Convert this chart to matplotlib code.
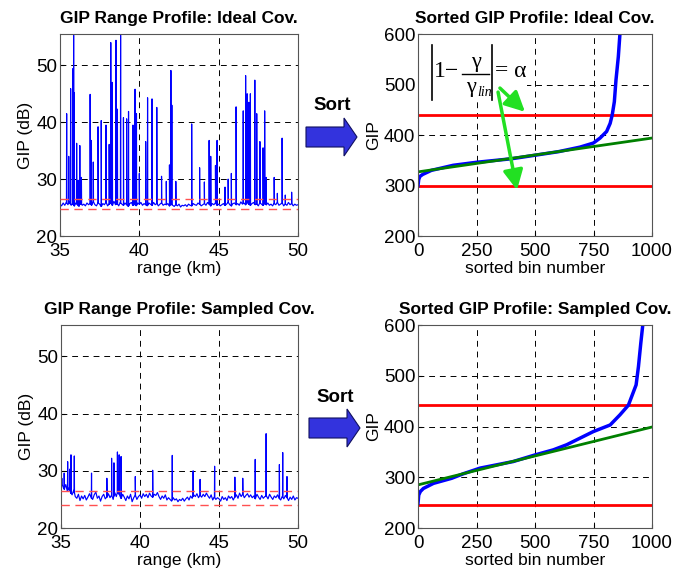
import numpy as np
import matplotlib
matplotlib.use('Agg')
import matplotlib.pyplot as plt
from matplotlib.patches import Polygon, FancyArrowPatch, Rectangle

plt.rcParams['font.family'] = ['Liberation Sans', 'DejaVu Sans']

# Базовый уровень профиля (шаг 0.1 км, 35..50 км)
range_grid = np.round(np.arange(35.0, 50.01, 0.1), 2)

ideal_base = [
    25.6, 25.3, 25.8, 25.4, 25.9, 25.5, 26.0, 25.4, 25.7, 25.3,
    25.8, 25.5, 25.2, 25.9, 25.4, 25.6, 25.3, 25.8, 25.5, 25.7,
    25.4, 26.0, 25.5, 25.3, 25.8, 25.6, 25.2, 25.7, 25.5, 25.9,
    25.3, 25.6, 25.8, 25.4, 26.1, 25.5, 25.7, 25.3, 25.9, 25.6,
    25.4, 25.8, 25.5, 25.2, 25.7, 25.9, 25.4, 25.6, 25.3, 25.8,
    25.6, 25.9, 25.4, 25.7, 25.5, 25.3, 25.8, 25.6, 25.4, 25.9,
    25.5, 25.7, 25.3, 25.6, 25.8, 25.4, 25.6, 25.5, 25.7, 25.3,
    25.6, 25.4, 25.2, 25.5, 25.3, 25.6, 25.1, 25.4, 25.3, 25.5,
    25.2, 25.6, 25.4, 25.3, 25.7, 25.5, 25.4, 25.8, 25.6, 25.3,
    25.5, 25.7, 25.4, 25.9, 25.6, 25.3, 25.7, 25.5, 25.8, 25.4,
    25.6, 25.3, 25.5, 25.7, 25.4, 25.6, 25.9, 25.5, 25.3, 25.7,
    25.8, 25.5, 25.7, 25.4, 26.0, 25.6, 25.8, 25.5, 25.9, 25.6,
    25.4, 25.7, 25.9, 25.5, 25.6, 25.3, 25.8, 25.6, 25.4, 25.7,
    25.5, 25.8, 25.4, 25.6, 25.3, 25.7, 25.5, 25.9, 25.4, 25.6,
    25.8, 25.3, 25.6, 25.4, 25.9, 25.5, 25.7, 25.3, 25.6, 25.4,
    25.5,
]

sampled_base = [
    28.2, 27.4, 26.8, 27.6, 26.5, 27.0, 26.2, 25.8, 26.6, 25.5,
    25.2, 25.9, 24.8, 25.6, 25.1, 25.7, 24.9, 25.4, 26.0, 25.3,
    25.0, 25.8, 26.3, 25.2, 25.6, 24.7, 25.5, 25.9, 25.1, 25.4,
    26.0, 25.3, 25.7, 25.0, 26.2, 25.5, 26.4, 25.8, 25.2, 25.9,
    25.4, 24.8, 25.6, 25.1, 25.9, 24.6, 25.3, 25.7, 25.0, 25.5,
    25.8, 25.2, 26.0, 25.5, 25.9, 25.3, 26.1, 25.6, 25.4, 25.9,
    25.7, 26.2, 25.5, 25.0, 25.6, 25.2, 25.8, 24.9, 25.3, 25.0,
    24.7, 25.3, 24.9, 25.1, 24.6, 25.0, 24.8, 25.2, 24.7, 25.1,
    25.4, 24.9, 25.6, 25.2, 25.8, 25.5, 26.0, 25.3, 25.7, 25.4,
    25.9, 25.5, 26.1, 25.6, 25.2, 25.8, 24.9, 25.4, 25.0, 25.3,
    25.1, 24.7, 25.5, 25.0, 25.3, 24.8, 25.6, 25.2, 25.5, 24.9,
    25.4, 25.8, 25.2, 26.1, 25.5, 25.9, 25.3, 25.7, 26.0, 25.4,
    25.8, 25.3, 25.6, 25.1, 25.9, 25.4, 25.0, 25.7, 25.2, 25.5,
    25.6, 25.1, 25.9, 25.4, 25.0, 25.6, 25.3, 25.8, 25.2, 24.9,
    25.5, 25.1, 25.7, 25.3, 24.8, 25.4, 25.0, 25.6, 24.9, 25.3,
    25.2,
]

# Пики (положение, км / уровень, дБ)
ideal_spike_km = [35.42, 35.55, 35.67, 35.80, 35.86, 35.90, 36.05, 36.15, 36.25, 36.35,
                  36.90, 36.98, 37.10, 37.40, 37.60, 37.90, 38.10, 38.20, 38.30, 38.53,
                  38.62, 38.82, 39.00, 39.20, 39.32, 39.60, 39.73, 39.82, 40.00, 40.40,
                  40.52, 40.80, 41.10, 41.40, 41.70, 41.90, 41.99, 42.05, 42.30, 43.30,
                  43.80, 44.10, 44.40, 44.50, 44.80, 44.90, 45.40, 45.60, 45.80, 46.10,
                  46.55, 46.70, 46.80, 46.90, 47.00, 47.28, 47.40, 47.60, 47.80, 47.90,
                  48.00, 48.50, 48.70, 49.00, 49.20, 49.60]
ideal_spike_db = [41.5, 34.0, 45.9, 49.4, 55.3, 45.2, 36.3, 29.8, 35.9, 30.3,
                  44.9, 36.8, 33.0, 39.2, 40.3, 39.5, 36.1, 54.0, 47.0, 54.4,
                  42.3, 55.3, 40.8, 40.6, 41.9, 39.5, 45.8, 41.5, 31.0, 36.6,
                  44.3, 44.1, 42.6, 30.5, 29.6, 32.5, 49.1, 43.0, 29.6, 39.7,
                  32.0, 29.5, 36.8, 34.0, 32.4, 36.8, 28.6, 30.0, 31.0, 42.7,
                  42.0, 48.2, 45.0, 43.5, 45.0, 47.4, 41.5, 36.6, 35.5, 42.0,
                  30.3, 30.3, 27.5, 37.2, 27.2, 27.7]

sampled_spike_km = [35.05, 35.20, 35.42, 35.55, 35.63, 35.84, 36.93, 37.90, 38.20, 38.35,
                    38.57, 38.68, 38.80, 39.70, 40.80, 42.04, 43.36, 43.80, 44.72, 46.00,
                    46.50, 47.29, 47.98, 48.82, 49.03, 49.30]
sampled_spike_db = [28.7, 29.6, 31.6, 30.3, 32.8, 32.6, 29.6, 28.7, 32.2, 31.4,
                    33.3, 32.8, 32.5, 29.0, 30.1, 32.7, 30.0, 28.5, 30.8, 28.9,
                    28.7, 32.0, 36.5, 31.1, 33.2, 29.0]

# Пороговые уровни (красный пунктир)
ideal_limits_db = [26.5, 24.8]
sampled_limits_db = [26.5, 24.0]

# Отсортированные профили
ideal_sorted_bin = [0, 3, 8, 20, 57, 150, 250, 400, 500, 600, 692, 749, 778, 806,
                    821, 830, 839, 846, 856, 863, 866]
ideal_sorted_gip = [300, 312, 318, 322, 330, 340, 346, 353, 360, 367, 376, 384, 394, 407,
                    423, 440, 466, 509, 555, 601, 610]
ideal_fit = [327, 394]
ideal_thresholds = [440, 300]

sampled_sorted_bin = [0, 3, 10, 23, 66, 144, 194, 265, 407, 500, 578, 635, 692, 749,
                      821, 863, 899, 913, 932, 942, 952, 960, 962]
sampled_sorted_gip = [249, 265, 272, 278, 288, 298, 307, 318, 331, 344, 354, 364, 377, 390,
                      403, 423, 442, 459, 482, 518, 564, 598, 610]
sampled_fit = [285, 399]
sampled_thresholds = [443, 246]

fit_bins = [0, 1000]


def build_profile(base, spike_km, spike_db):
    base = np.array(base)
    pts = list(zip(range_grid, base))
    for k, d in zip(spike_km, spike_db):
        b = np.interp(k, range_grid, base)
        pts += [(k - 0.012, b), (k, d), (k + 0.012, b)]
    pts.sort()
    return np.array(pts).T


def style_axes(ax):
    ax.grid(True, color='black', linestyle=(0, (6, 5)), linewidth=0.7)
    ax.tick_params(direction='in', length=3, labelsize=13.5)
    ax.tick_params(axis='x', pad=5)
    ax.tick_params(axis='y', pad=2)
    for s in ax.spines.values():
        s.set_color('#555555')
        s.set_linewidth(0.8)


fig = plt.figure(figsize=(6.88, 5.72), dpi=100)

ax_positions = {
    'tl': [0.0872, 0.5874, 0.3459, 0.3531],
    'tr': [0.6076, 0.5874, 0.3401, 0.3531],
    'bl': [0.0887, 0.0769, 0.3445, 0.3549],
    'br': [0.6076, 0.0769, 0.3401, 0.3549],
}

profiles = [
    ('tl', 'GIP Range Profile: Ideal Cov.', ideal_base, ideal_spike_km, ideal_spike_db, ideal_limits_db),
    ('bl', 'GIP Range Profile: Sampled Cov.', sampled_base, sampled_spike_km, sampled_spike_db, sampled_limits_db),
]
for key, title, base, sk, sd, lims in profiles:
    ax = fig.add_axes(ax_positions[key])
    x, y = build_profile(base, sk, sd)
    ax.plot(x, y, color='#0000ff', linewidth=0.85)
    for lv in lims:
        ax.axhline(lv, color='#ff5050', linestyle=(0, (6, 4)), linewidth=1.0, zorder=4)
    ax.set_xlim(35, 50)
    ax.set_ylim(20, 55.5)
    ax.set_xticks([35, 40, 45, 50])
    ax.set_yticks([20, 30, 40, 50])
    style_axes(ax)
    ax.set_title(title, fontsize=12.5, fontweight='bold', pad=8)
    ax.set_xlabel('range (km)', fontsize=12.5, labelpad=1)
    ax.set_ylabel('GIP (dB)', fontsize=12.5, labelpad=2)

sorted_sets = [
    ('tr', 'Sorted GIP Profile: Ideal Cov.', ideal_sorted_bin, ideal_sorted_gip, ideal_fit, ideal_thresholds),
    ('br', 'Sorted GIP Profile: Sampled Cov.', sampled_sorted_bin, sampled_sorted_gip, sampled_fit, sampled_thresholds),
]
sorted_axes = {}
for key, title, sb, sg, fit, thr in sorted_sets:
    ax = fig.add_axes(ax_positions[key])
    for lv in thr:
        ax.axhline(lv, color='#ff0000', linewidth=2)
    ax.plot(sb, sg, color='#0000ff', linewidth=2.5)
    ax.plot(fit_bins, fit, color='#008000', linewidth=2)
    ax.set_xlim(0, 1000)
    ax.set_ylim(200, 600)
    ax.set_xticks([0, 250, 500, 750, 1000])
    ax.set_yticks([200, 300, 400, 500, 600])
    style_axes(ax)
    ax.set_title(title, fontsize=12.5, fontweight='bold', pad=8)
    ax.set_xlabel('sorted bin number', fontsize=12.5, labelpad=1)
    ax.set_ylabel('GIP', fontsize=12.5, labelpad=2)
    sorted_axes[key] = ax

# Формула |1 - γ/γlin| = α (собрана из частей), на белой подложке
ax = sorted_axes['tr']
serif = 'Liberation Serif'
ax.add_patch(Rectangle((2, 472), 464, 126, facecolor='white', edgecolor='none', zorder=1.8))
ax.plot([59, 59], [469, 578], color='black', linewidth=1.2, zorder=3)
ax.plot([315, 315], [469, 578], color='black', linewidth=1.2, zorder=3)
ax.text(124, 525, '1\u2212', family=serif, fontsize=17, ha='center', va='center', zorder=3)
ax.text(248, 543, '\u03b3', family=serif, fontsize=16, ha='center', va='center', zorder=3)
ax.plot([190, 305], [521, 521], color='black', linewidth=1.0, zorder=3)
ax.text(228, 494, '\u03b3', family=serif, fontsize=16, ha='center', va='center', zorder=3)
ax.text(255, 484, 'lin', family=serif, style='italic', fontsize=10, ha='left', va='center',
        zorder=3)
ax.text(330, 525, '= \u03b1', family=serif, fontsize=17, ha='left', va='center', zorder=3)

for (x0, y0), (x1, y1) in [((350, 493), (457, 446)), ((342, 485), (423, 291))]:
    ax.add_patch(FancyArrowPatch((x0, y0), (x1, y1), arrowstyle='-|>,head_width=4,head_length=8',
                                 color='#22e022', linewidth=2.5, mutation_scale=1.5,
                                 shrinkA=0, shrinkB=0, zorder=4))

# Стрелки "Sort"
W, H = 688.0, 572.0
for cy, x0, ty in [(137, 306, 105), (428, 309, 397)]:
    body = 10
    head = 19
    xb = x0 + 38
    xt = x0 + 51
    pts = [(x0, cy - body), (xb, cy - body), (xb, cy - head), (xt, cy),
           (xb, cy + head), (xb, cy + body), (x0, cy + body)]
    pts = [(px / W, 1 - py / H) for px, py in pts]
    fig.patches.append(Polygon(pts, closed=True, transform=fig.transFigure,
                               facecolor='#3333dd', edgecolor='#101060', linewidth=0.8))
    fig.text((x0 + 26) / W, 1 - ty / H, 'Sort', fontsize=13.5, fontweight='bold',
             ha='center', va='center')

fig.savefig('out.png', dpi=100)
